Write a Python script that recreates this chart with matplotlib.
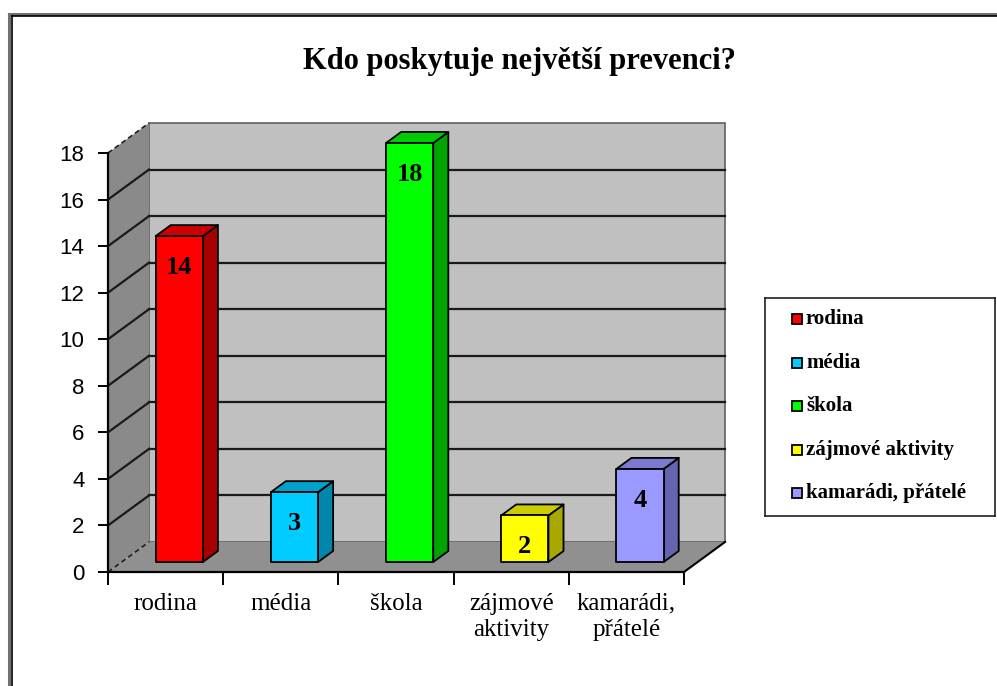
import matplotlib
matplotlib.use("Agg")
import matplotlib.pyplot as plt
from matplotlib.patches import Polygon, Rectangle
from matplotlib.lines import Line2D

# ---- data ----
title = "Kdo poskytuje největší prevenci?"
categories = ["rodina", "média", "škola", "zájmové aktivity", "kamarádi, přátelé"]
xlabels = ["rodina", "média", "škola", "zájmové\naktivity", "kamarádi,\npřátelé"]
values = [14, 3, 18, 2, 4]
front_colors = ["#ff0000", "#00ccff", "#00ff00", "#ffff00", "#9999ff"]
side_colors = ["#a80000", "#0086aa", "#00a400", "#a8a800", "#6464b0"]
top_colors = ["#cc0000", "#00a2cc", "#00cc00", "#cccc00", "#7a7ad0"]
yticks = list(range(0, 20, 2))
ymax = 18

W, H = 997, 686
fig = plt.figure(figsize=(W / 100, H / 100), dpi=100)
fig.patch.set_facecolor("white")

# axes = front plane of the 3D box (pixel layout)
L, R, B, T = 108, 684, 572, 153
ax = fig.add_axes([L / W, (H - B) / H, (R - L) / W, (B - T) / H])
ax.set_xlim(-0.5, len(values) - 0.5)
ax.set_ylim(0, ymax)
ax.patch.set_alpha(0)

# depth offset (pixels) -> data units
DEPTH_PX = (41, 30)
ppx = (R - L) / len(values)
ppy = (B - T) / ymax
DX, DY = DEPTH_PX[0] / ppx, DEPTH_PX[1] / ppy

def P(x, y, d):
    return (x + d * DX, y + d * DY)

x0, x1 = -0.5, len(values) - 0.5

# back wall
ax.add_patch(Polygon([P(x0, 0, 1), P(x1, 0, 1), P(x1, ymax, 1), P(x0, ymax, 1)],
                     closed=True, facecolor="#c0c0c0", edgecolor="#606060", lw=1.2,
                     clip_on=False, zorder=1))
# side wall
ax.add_patch(Polygon([P(x0, 0, 0), P(x0, 0, 1), P(x0, ymax, 1), P(x0, ymax, 0)],
                     closed=True, facecolor="#8a8a8a", edgecolor="none",
                     clip_on=False, zorder=1))
# floor
ax.add_patch(Polygon([P(x0, 0, 0), P(x1, 0, 0), P(x1, 0, 1), P(x0, 0, 1)],
                     closed=True, facecolor="#909090", edgecolor="none",
                     clip_on=False, zorder=1))
# floor right edge
ax.add_line(Line2D(*zip(P(x1, 0, 0), P(x1, 0, 1)), color="black", lw=1.5,
                   clip_on=False, zorder=2))
# dashed side-wall edges
for yv in (0, ymax):
    ax.add_line(Line2D(*zip(P(x0, yv, 0), P(x0, yv, 1)), color="#202020", lw=1.2,
                       ls=(0, (3, 2)), clip_on=False, zorder=2))

# gridlines on back wall and side wall
for yv in yticks[1:-1]:
    ax.add_line(Line2D(*zip(P(x0, yv, 1), P(x1, yv, 1)), color="#1a1a1a", lw=1.6,
                       clip_on=False, zorder=2))
    ax.add_line(Line2D(*zip(P(x0, yv, 0), P(x0, yv, 1)), color="#1a1a1a", lw=1.6,
                       clip_on=False, zorder=2))

# bars
bw = 0.41
d0, d1 = 0.333, 0.70
for i, v in enumerate(values):
    xl, xr = i - bw / 2, i + bw / 2
    front = [P(xl, 0, d0), P(xr, 0, d0), P(xr, v, d0), P(xl, v, d0)]
    side = [P(xr, 0, d0), P(xr, 0, d1), P(xr, v, d1), P(xr, v, d0)]
    top = [P(xl, v, d0), P(xr, v, d0), P(xr, v, d1), P(xl, v, d1)]
    for poly, col in ((side, side_colors[i]), (top, top_colors[i]), (front, front_colors[i])):
        ax.add_patch(Polygon(poly, closed=True, facecolor=col, edgecolor="black",
                             lw=1.3, joinstyle="round", clip_on=False, zorder=3))
    lx, ly = P(i, v - 1.35, d0)
    ax.text(lx, ly, str(v), ha="center", va="center", family="Liberation Serif",
            fontweight="bold", fontsize=19, zorder=4, clip_on=False)

# axes styling
for s in ("top", "right"):
    ax.spines[s].set_visible(False)
ax.spines["left"].set_linewidth(1.6)
ax.spines["bottom"].set_linewidth(1.6)
ax.spines["left"].set_zorder(5)
ax.spines["bottom"].set_zorder(5)
ax.set_yticks(yticks)
ax.set_yticklabels([str(t) for t in yticks], family="Liberation Sans", fontsize=16)
ax.tick_params(axis="y", direction="out", length=7, width=1.4, pad=10)
ax.set_xticks(range(len(values)))
ax.set_xticklabels(xlabels, family="Liberation Serif", fontsize=18, linespacing=1.25)
ax.set_xticks([i - 0.5 for i in range(len(values) + 1)], minor=True)
ax.tick_params(axis="x", which="major", length=0, pad=15)
ax.tick_params(axis="x", which="minor", direction="out", length=9, width=1.4)

# title
fig.text(519 / W, 1 - 62 / H, title, ha="center", va="center",
         family="Liberation Serif", fontweight="bold", fontsize=22)

# legend (drawn from categories/colors)
lg = fig.add_axes([765 / W, (H - 516) / H, (995 - 765) / W, (516 - 298) / H])
lg.set_xlim(0, 230)
lg.set_ylim(218, 0)
lg.set_xticks([])
lg.set_yticks([])
for s in lg.spines.values():
    s.set_linewidth(1.2)
    s.set_color("#202020")
row0, rowstep = 21, 43.5
for i, (cat, col) in enumerate(zip(categories, front_colors)):
    y = row0 + i * rowstep
    lg.add_patch(Rectangle((27, y - 5), 10, 10, facecolor=col, edgecolor="black", lw=1.3))
    lg.text(41, y, cat, va="center", ha="left", family="Liberation Serif",
            fontweight="bold", fontsize=15)

# outer frame (double line)
fig.add_artist(Line2D([9 / W, 9 / W], [0, 1 - 14 / H], color="#707070", lw=2.2))
fig.add_artist(Line2D([9 / W, 1], [1 - 14 / H, 1 - 14 / H], color="#707070", lw=2.2))
fig.add_artist(Line2D([11.8 / W, 11.8 / W], [0, 1 - 16 / H], color="black", lw=1.2))
fig.add_artist(Line2D([11.8 / W, 1], [1 - 16 / H, 1 - 16 / H], color="black", lw=1.2))

fig.savefig("out.png", dpi=100)
